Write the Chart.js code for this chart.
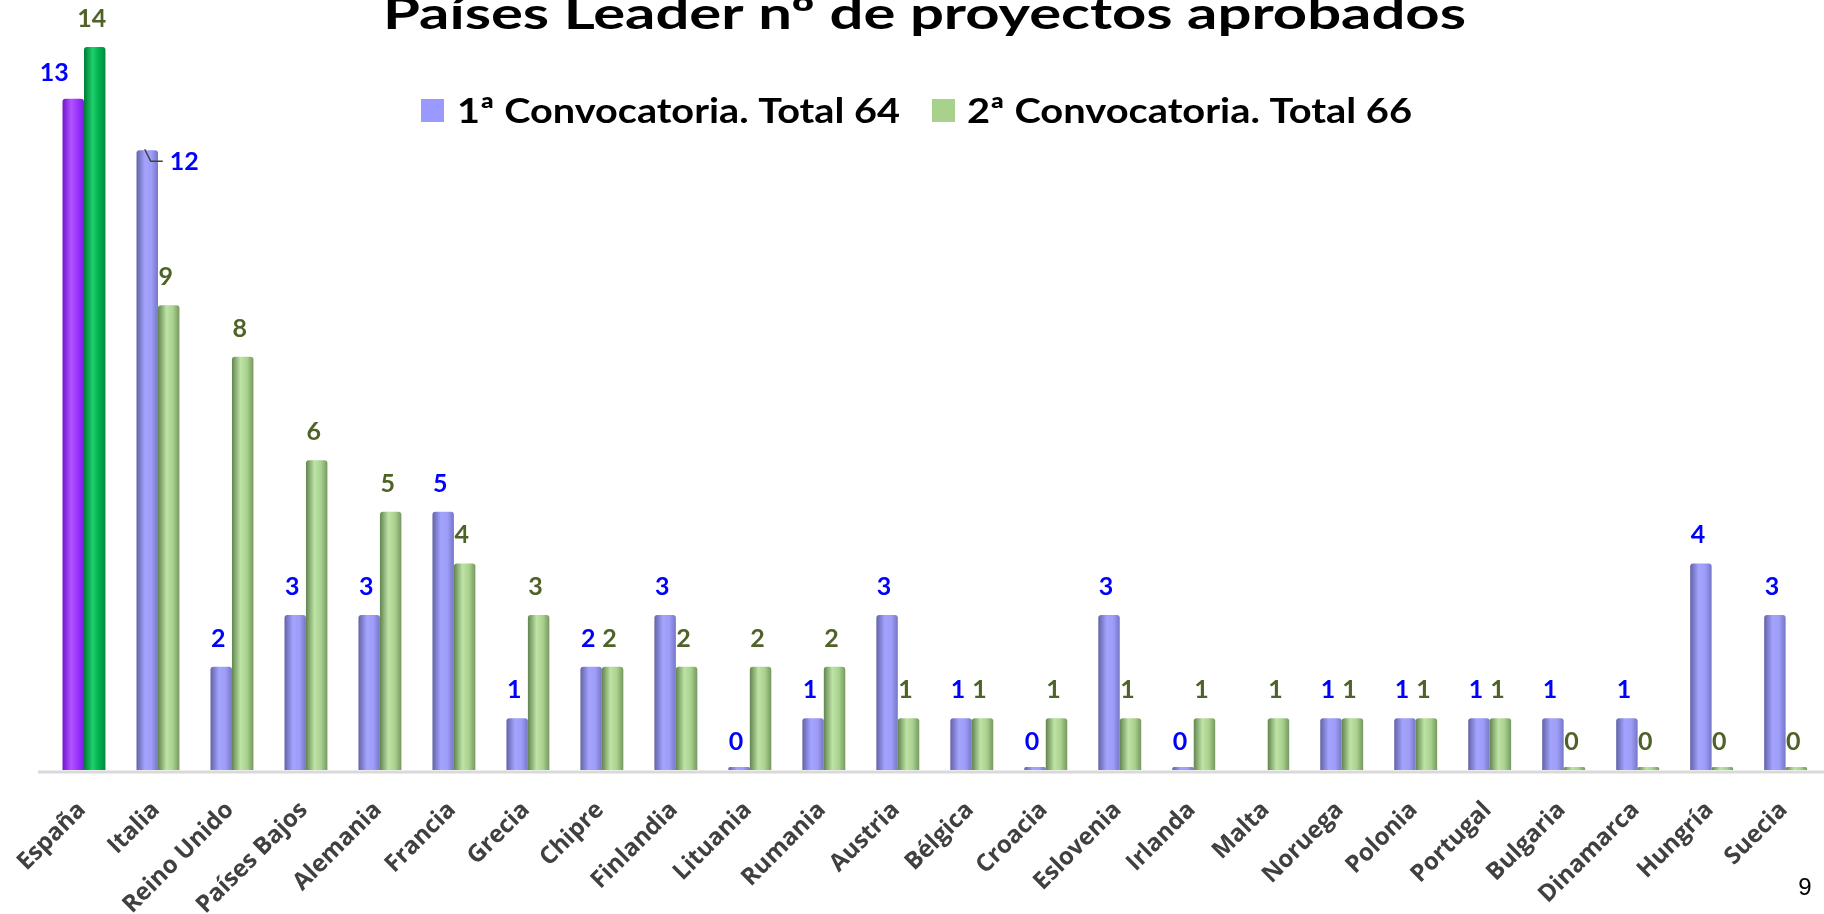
<!DOCTYPE html>
<html lang="es">
<head>
<meta charset="utf-8">
<title>Países Leader nº de proyectos aprobados</title>
<script src="https://cdn.jsdelivr.net/npm/chart.js@4.4.1/dist/chart.umd.min.js"></script>
<style>
  html, body { margin: 0; padding: 0; background: #fff; }
  #wrap { width: 1824px; height: 914px; }
</style>
</head>
<body>
<div id="wrap"><canvas id="chart" width="1824" height="914"></canvas></div>
<script>
// Datos //
const paises = ['España', 'Italia', 'Reino Unido', 'Países Bajos', 'Alemania', 'Francia', 'Grecia', 'Chipre',
    'Finlandia', 'Lituania', 'Rumania', 'Austria', 'Bélgica', 'Croacia', 'Eslovenia', 'Irlanda', 'Malta',
    'Noruega', 'Polonia', 'Portugal', 'Bulgaria', 'Dinamarca', 'Hungría', 'Suecia'];
const convocatoria1 = [13, 12, 2, 3, 3, 5, 1, 2, 3, 0, 1, 3, 1, 0, 3, 0, null, 1, 1, 1, 1, 1, 4, 3];
const convocatoria2 = [14, 9, 8, 6, 5, 4, 3, 2, 2, 2, 2, 1, 1, 1, 1, 1, 1, 1, 1, 1, 0, 0, 0, 0];
const serieNames = ['1ª Convocatoria. Total 64', '2ª Convocatoria. Total 66'];
const titulo = 'Países Leader nº de proyectos aprobados';
const pagina = '9';

// Estilos //
const legendColors = ['#9999ff', '#a9d18e'];
const labelColors = ['#0000ff', '#4f6228'];
const cylinderColors = [
    ['#6262a8', '#a4a4ff', '#9d9df8', '#7575c8'],
    ['#62844f', '#bde3a5', '#a9d18e', '#77985f']
];
const spainColors = [
    ['#7014cc', '#b155ff', '#9b34ff', '#7d1ee0'],
    ['#007a36', '#1fd06c', '#00b050', '#008a3e']
];
// desplazamientos de etiquetas especiales (dataset-indice)
const labelNudge = {
    '0-0': {dx: -16, dy: 2},
    '0-1': {dx: 40, dy: 40, leader: true}
};

function cylinderFill(context) {
    const chart = context.chart;
    const xs = chart.scales.x;
    const c = context.dataIndex === 0 ? spainColors[context.datasetIndex] : cylinderColors[context.datasetIndex];
    if (!xs || !chart.chartArea) return c[2];
    const center = xs.getPixelForValue(context.dataIndex);
    const w = xs.width / paises.length * 0.58 / 2;
    const left = context.datasetIndex === 0 ? center - w : center;
    const g = chart.ctx.createLinearGradient(left, 0, left + w, 0);
    g.addColorStop(0, c[0]);
    g.addColorStop(0.4, c[1]);
    g.addColorStop(0.7, c[2]);
    g.addColorStop(1, c[3]);
    return g;
}

// texto ajustado a un ancho (fuente parecida a Calibri)
function fitText(ctx, text, x, y, size, width, color) {
    ctx.save();
    ctx.font = 'bold ' + size + 'px Lato';
    ctx.fillStyle = color;
    ctx.textBaseline = 'alphabetic';
    ctx.textAlign = 'left';
    const sx = width / ctx.measureText(text).width;
    ctx.translate(x, y);
    ctx.scale(sx, 1);
    ctx.fillText(text, 0, 0);
    ctx.restore();
}

const decoPlugin = {
    id: 'deco',
    beforeDatasetsDraw(chart) {
        const ctx = chart.ctx;
        const y0 = chart.scales.y.getPixelForValue(0);
        ctx.save();
        ctx.strokeStyle = '#d9d9d9';
        ctx.lineWidth = 3;
        ctx.beginPath();
        ctx.moveTo(38, y0 + 2);
        ctx.lineTo(1824, y0 + 2);
        ctx.stroke();
        ctx.restore();
    },
    afterDatasetsDraw(chart) {
        const ctx = chart.ctx;
        const ys = chart.scales.y;
        ctx.save();
        ctx.font = 'bold 25px Lato';
        ctx.textAlign = 'center';
        ctx.textBaseline = 'middle';
        chart.data.datasets.forEach((ds, di) => {
            const meta = chart.getDatasetMeta(di);
            meta.data.forEach((bar, i) => {
                const v = ds.data[i];
                if (v === null) return;
                const top = ys.getPixelForValue(v);
                const n = labelNudge[di + '-' + i] || {dx: 0, dy: 0};
                const lx = bar.x - 3 + n.dx;
                const ly = top - 28 + n.dy;
                if (n.leader) {
                    ctx.strokeStyle = '#404040';
                    ctx.lineWidth = 1.5;
                    ctx.beginPath();
                    ctx.moveTo(bar.x - 2.5, top - 1);
                    ctx.lineTo(bar.x + 3.5, top + 11);
                    ctx.lineTo(bar.x + 15.5, top + 11);
                    ctx.stroke();
                }
                ctx.fillStyle = labelColors[di];
                ctx.fillText(String(v), lx, ly);
            });
        });
        ctx.restore();
    },
    afterDraw(chart) {
        const ctx = chart.ctx;
        // titulo, cortado arriba como en la diapositiva
        fitText(ctx, titulo, 383, 29, 44, 1083, '#000000');

        // leyenda
        const items = [
            {x: 421, tx: 457, w: 443},
            {x: 932, tx: 967, w: 445}
        ];
        items.forEach((it, k) => {
            ctx.fillStyle = legendColors[k];
            ctx.fillRect(it.x, 99, 23, 23);
            fitText(ctx, serieNames[k], it.tx, 123, 35, it.w, '#000000');
        });

        // numero de pagina
        ctx.save();
        ctx.font = '24px "Liberation Sans"';
        ctx.fillStyle = '#000000';
        ctx.textAlign = 'center';
        ctx.textBaseline = 'middle';
        ctx.fillText(pagina, 1805, 888);
        ctx.restore();
    }
};

new Chart(document.getElementById('chart'), {
    type: 'bar',
    data: {
        labels: paises,
        datasets: [{
            label: serieNames[0],
            data: convocatoria1,
            backgroundColor: cylinderFill,
            borderRadius: {topLeft: 3, topRight: 3},
            borderSkipped: 'bottom',
            minBarLength: 3
        }, {
            label: serieNames[1],
            data: convocatoria2,
            backgroundColor: cylinderFill,
            borderRadius: {topLeft: 3, topRight: 3},
            borderSkipped: 'bottom',
            minBarLength: 3
        }]
    },
    options: {
        responsive: false,
        animation: false,
        events: [],
        layout: {padding: {left: 47, right: 1, top: 47, bottom: 0}},
        datasets: {bar: {categoryPercentage: 0.58, barPercentage: 1}},
        plugins: {
            legend: {display: false},
            title: {display: false},
            tooltip: {enabled: false}
        },
        scales: {
            x: {
                grid: {display: false},
                border: {display: false},
                ticks: {
                    autoSkip: false,
                    minRotation: 45,
                    maxRotation: 45,
                    padding: 18,
                    labelOffset: -2,
                    color: '#404040',
                    font: {family: '"Open Sans"', weight: 'bold', size: 24}
                },
                afterFit(scale) {
                    scale.height = 144;
                }
            },
            y: {
                display: false,
                min: 0,
                max: 14
            }
        }
    },
    plugins: [decoPlugin]
});
</script>
</body>
</html>
